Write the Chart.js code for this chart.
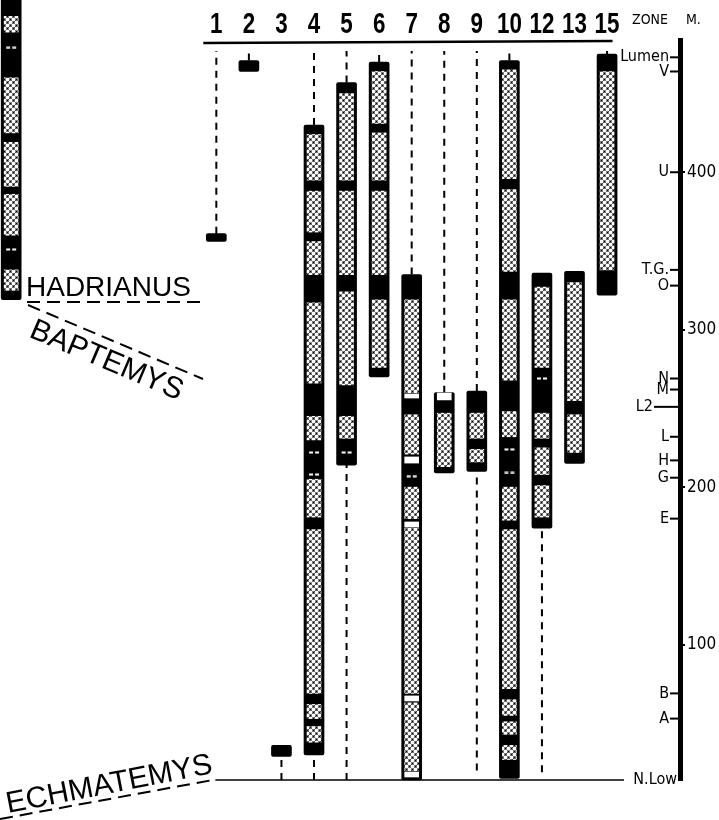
<!DOCTYPE html>
<html>
<head>
<meta charset="utf-8">
<script src="https://cdn.jsdelivr.net/npm/chart.js@4.4.1/dist/chart.umd.min.js"></script>
<style>
  html, body { margin: 0; padding: 0; background: #fff; }
  #wrap { width: 719px; height: 820px; position: relative; }
</style>
</head>
<body>
<div id="wrap"><canvas id="chart"></canvas></div>
<script>
// ─── Data (metres above base) ────────────────────────────────────────────────

const COLUMNS    = ["1", "2", "3", "4", "5", "6", "7", "8", "9", "10", "12", "13", "15"];
const RANGE_BASE = [356, 464, 29, 30, 214, 270, 14, 209, 210, 15, 174, 215, 322];
const RANGE_TOP  = [361, 471, 36, 430, 457, 470, 335, 260, 261, 471, 336, 337, 475];

// stippled intervals inside each column
const STIPPLE = [
  [], [], [],
  [[395, 424], [362, 388], [335, 356], [266, 317], [230, 245], [181, 205], [69, 173], [53, 62], [38, 48]],
  [[395, 450], [335, 388], [265, 324], [231, 245]],
  [[431, 464], [395, 425], [335, 388], [276, 319]],
  [[260, 319], [221, 246], [180, 200], [69, 174], [20, 63]],
  [[213, 247]],
  [[231, 247], [216, 224]],
  [[396, 465], [337, 389], [268, 319], [232, 248], [179, 200], [72, 173], [55, 65], [43, 51], [27, 36]],
  [[276, 327], [231, 247], [208, 225], [181, 201]],
  [[255, 330], [222, 246]],
  [[338, 464]],
];

// thin white bands
const WHITE_BANDS = [
  [], [], [], [], [], [],
  [[256.6, 259.2], [215.3, 219.2], [174.7, 177.9], [64.2, 67.4], [15.9, 19.1]],
  [[255.4, 259.8]],
  [], [], [], [], [],
];

// broken white dashes
const DASH_MARKS = [[], [], [], [222, 208], [222], [], [207], [], [], [224, 209], [269], [], []];

// dashed leaders above / below the columns
const LEADER_TOP    = [477, 477, null, 477, 477, 477, 477, 477, 477, 477, null, null, 477];
const LEADER_BOTTOM = [null, null, 14, 14, 14, null, null, null, 20, null, 19, null, null];

// the cut-off column at the left edge
const EDGE_RANGE   = [319, 512];
const EDGE_STIPPLE = [[489, 499], [425, 460], [391, 419], [360, 386], [325, 338]];
const EDGE_DASHES  = [479, 351];

const ZONE_LABELS = ["Lumen", "V", "U", "T.G.", "O", "N", "M", "L2", "L", "H", "G", "E", "B", "A", "N.Low"];
const ZONE_VALUES = [473, 464, 400, 338, 328, 269, 262, 251, 232, 217, 206, 180, 69, 53, 14];

const Y_TICKS = [100, 200, 300, 400];

// ─── Styling ─────────────────────────────────────────────────────────────────

const EDGE_X = -6.3;
const COND = "'DejaVu Sans Condensed', 'DejaVu Sans', sans-serif";
const HEAD_FONT = "bold 28px 'Liberation Sans', Arial, sans-serif";

function makeStipple() {
  const c = document.createElement("canvas");
  c.width = 6; c.height = 6;
  const g = c.getContext("2d");
  g.fillStyle = "#000";
  g.fillRect(0, 0, 6, 6);
  g.fillStyle = "#fff";
  [[1.5, 1.5], [4.5, 4.5]].forEach(([cx, cy]) => {
    for (let dx = -6; dx <= 6; dx += 6) {
      for (let dy = -6; dy <= 6; dy += 6) {
        g.beginPath();
        g.arc(cx + dx, cy + dy, 2.0, 0, Math.PI * 2);
        g.fill();
      }
    }
  });
  return g.createPattern(c, "repeat");
}

function makeDashImage() {
  const c = document.createElement("canvas");
  c.width = 14; c.height = 3;
  const g = c.getContext("2d");
  g.fillStyle = "#fff";
  g.fillRect(2, 0.5, 4, 2);
  g.fillRect(8, 0.5, 4, 2);
  return c;
}

// ─── Build datasets ──────────────────────────────────────────────────────────

const outline = COLUMNS.map((_, i) => ({ x: i, y: [RANGE_BASE[i], RANGE_TOP[i]] }));
outline.push({ x: EDGE_X, y: EDGE_RANGE });

const stipple = STIPPLE.flatMap((segs, i) => segs.map(([lo, hi]) => ({ x: i, y: [lo, hi] })));
EDGE_STIPPLE.forEach(([lo, hi]) => stipple.push({ x: EDGE_X, y: [lo, hi] }));

const bands = WHITE_BANDS.flatMap((segs, i) => segs.map(([lo, hi]) => ({ x: i, y: [lo, hi] })));

const dashes = DASH_MARKS.flatMap((vals, i) => vals.map((v) => ({ x: i, y: v })));
EDGE_DASHES.forEach((v) => dashes.push({ x: EDGE_X, y: v }));

const leaders = [];
COLUMNS.forEach((_, i) => {
  if (LEADER_TOP[i] != null) {
    leaders.push({ x: i, y: RANGE_TOP[i] }, { x: i, y: LEADER_TOP[i] }, { x: i, y: null });
  }
  if (LEADER_BOTTOM[i] != null) {
    leaders.push({ x: i, y: LEADER_BOTTOM[i] }, { x: i, y: RANGE_BASE[i] }, { x: i, y: null });
  }
});

// ─── Decorations ─────────────────────────────────────────────────────────────

function dashedLine(ctx, x1, y1, x2, y2, dash, width) {
  ctx.save();
  ctx.strokeStyle = "#000";
  ctx.lineWidth = width;
  ctx.setLineDash(dash);
  ctx.beginPath();
  ctx.moveTo(x1, y1);
  ctx.lineTo(x2, y2);
  ctx.stroke();
  ctx.restore();
}

const decorPlugin = {
  id: "decor",
  afterDraw(chart) {
    const { ctx, chartArea } = chart;
    const xs = chart.scales.x;
    const ys = chart.scales.y;
    const axisX = chartArea.right;

    ctx.save();
    ctx.fillStyle = "#000";
    ctx.strokeStyle = "#000";

    // column numbers (condensed bold) on the x scale
    ctx.font = HEAD_FONT;
    ctx.textAlign = "center";
    ctx.textBaseline = "alphabetic";
    xs.ticks.forEach((t) => {
      ctx.save();
      ctx.translate(xs.getPixelForValue(t.value), 33);
      ctx.scale(0.8, 1.05);
      ctx.fillText(COLUMNS[t.value], 0, 0);
      ctx.restore();
    });

    // top rule under the column numbers
    ctx.lineWidth = 2.5;
    ctx.beginPath();
    ctx.moveTo(xs.getPixelForValue(-0.4), chartArea.top + 3);
    ctx.lineTo(xs.getPixelForValue(12.17), chartArea.top + 1);
    ctx.stroke();

    // base line (N.Low)
    ctx.lineWidth = 1.5;
    ctx.beginPath();
    ctx.moveTo(xs.getPixelForValue(-0.03), ys.getPixelForValue(14));
    ctx.lineTo(axisX - 56, ys.getPixelForValue(14));
    ctx.stroke();

    // zone labels
    ctx.font = "16px " + COND;
    ctx.textAlign = "right";
    ctx.textBaseline = "middle";
    ZONE_LABELS.forEach((lab, i) => {
      const py = ys.getPixelForValue(ZONE_VALUES[i]);
      let tick = 10;
      if (lab === "L2") tick = 26;
      if (lab === "N.Low") tick = 2;
      ctx.lineWidth = 2;
      ctx.beginPath();
      ctx.moveTo(axisX - tick, py);
      ctx.lineTo(axisX, py);
      ctx.stroke();
      ctx.fillText(lab, axisX - tick - 1, py);
    });

    // header
    ctx.font = "14px " + COND;
    ctx.textAlign = "left";
    ctx.fillText("ZONE", 632, 20);
    ctx.fillText("M.", 686, 20);

    // genus boundaries
    ctx.font = "28px 'Liberation Sans', Arial, sans-serif";
    ctx.textBaseline = "alphabetic";
    ctx.fillText("HADRIANUS", 26, 296);
    dashedLine(ctx, 27, 302, 204, 302, [13, 7], 2);

    dashedLine(ctx, 28, 305, 203, 379, [13, 7], 2);
    ctx.save();
    ctx.font = "30px 'Liberation Sans', Arial, sans-serif";
    ctx.translate(37, 315);
    ctx.rotate((23 * Math.PI) / 180);
    ctx.textBaseline = "top";
    ctx.fillText("BAPTEMYS", 0, 0);
    ctx.restore();

    dashedLine(ctx, 0, 819, 213, 780, [13, 7], 2);
    ctx.save();
    ctx.font = "30px 'Liberation Sans', Arial, sans-serif";
    ctx.translate(8, 813);
    ctx.rotate((-11 * Math.PI) / 180);
    ctx.fillText("ECHMATEMYS", 0, 0);
    ctx.restore();

    ctx.restore();
  },
};

// ─── Chart ───────────────────────────────────────────────────────────────────

const STIPPLE_FILL = makeStipple();
const DASH_IMG = makeDashImage();

new Chart(document.getElementById("chart"), {
  type: "bar",
  data: {
    datasets: [
      {
        type: "line",
        data: dashes,
        showLine: false,
        pointStyle: DASH_IMG,
        pointRadius: 3,
        order: 1,
        clip: false,
      },
      {
        data: bands,
        backgroundColor: "#fff",
        barThickness: 14,
        grouped: false,
        order: 2,
        clip: false,
      },
      {
        data: stipple,
        backgroundColor: STIPPLE_FILL,
        barThickness: 14,
        grouped: false,
        order: 3,
        clip: false,
      },
      {
        data: outline,
        backgroundColor: "#000",
        barThickness: 20,
        borderRadius: 2,
        borderSkipped: false,
        grouped: false,
        order: 4,
        clip: false,
      },
      {
        type: "line",
        data: leaders,
        borderColor: "#000",
        borderWidth: 2,
        borderDash: [7, 6],
        pointRadius: 0,
        spanGaps: false,
        order: 5,
        clip: false,
      },
    ],
  },
  options: {
    responsive: true,
    maintainAspectRatio: false,
    animation: false,
    events: [],
    layout: { padding: { left: 0, right: 0, top: 0, bottom: 40 } },
    plugins: { legend: { display: false }, tooltip: { enabled: false } },
    scales: {
      x: {
        type: "linear",
        position: "top",
        offset: false,
        min: -6.49,
        max: 14.24,
        afterBuildTicks: (s) => { s.ticks = COLUMNS.map((_, i) => ({ value: i })); },
        afterFit: (s) => { s.height = 40; s.paddingLeft = 0; s.paddingRight = 0; },
        grid: { display: false },
        border: { display: false },
        ticks: { display: false },
      },
      y: {
        type: "linear",
        position: "right",
        min: 14,
        max: 484,
        afterBuildTicks: (s) => { s.ticks = Y_TICKS.map((v) => ({ value: v })); },
        afterFit: (s) => { s.width = 39; s.paddingTop = 0; s.paddingBottom = 0; },
        grid: { display: true, drawOnChartArea: false, drawTicks: true, tickLength: 5, lineWidth: 2, color: "#000" },
        border: { display: true, width: 5, color: "#000" },
        ticks: {
          padding: 2,
          color: "#000",
          font: { family: COND, size: 17 },
        },
      },
    },
  },
  plugins: [decorPlugin],
});
</script>
</body>
</html>
